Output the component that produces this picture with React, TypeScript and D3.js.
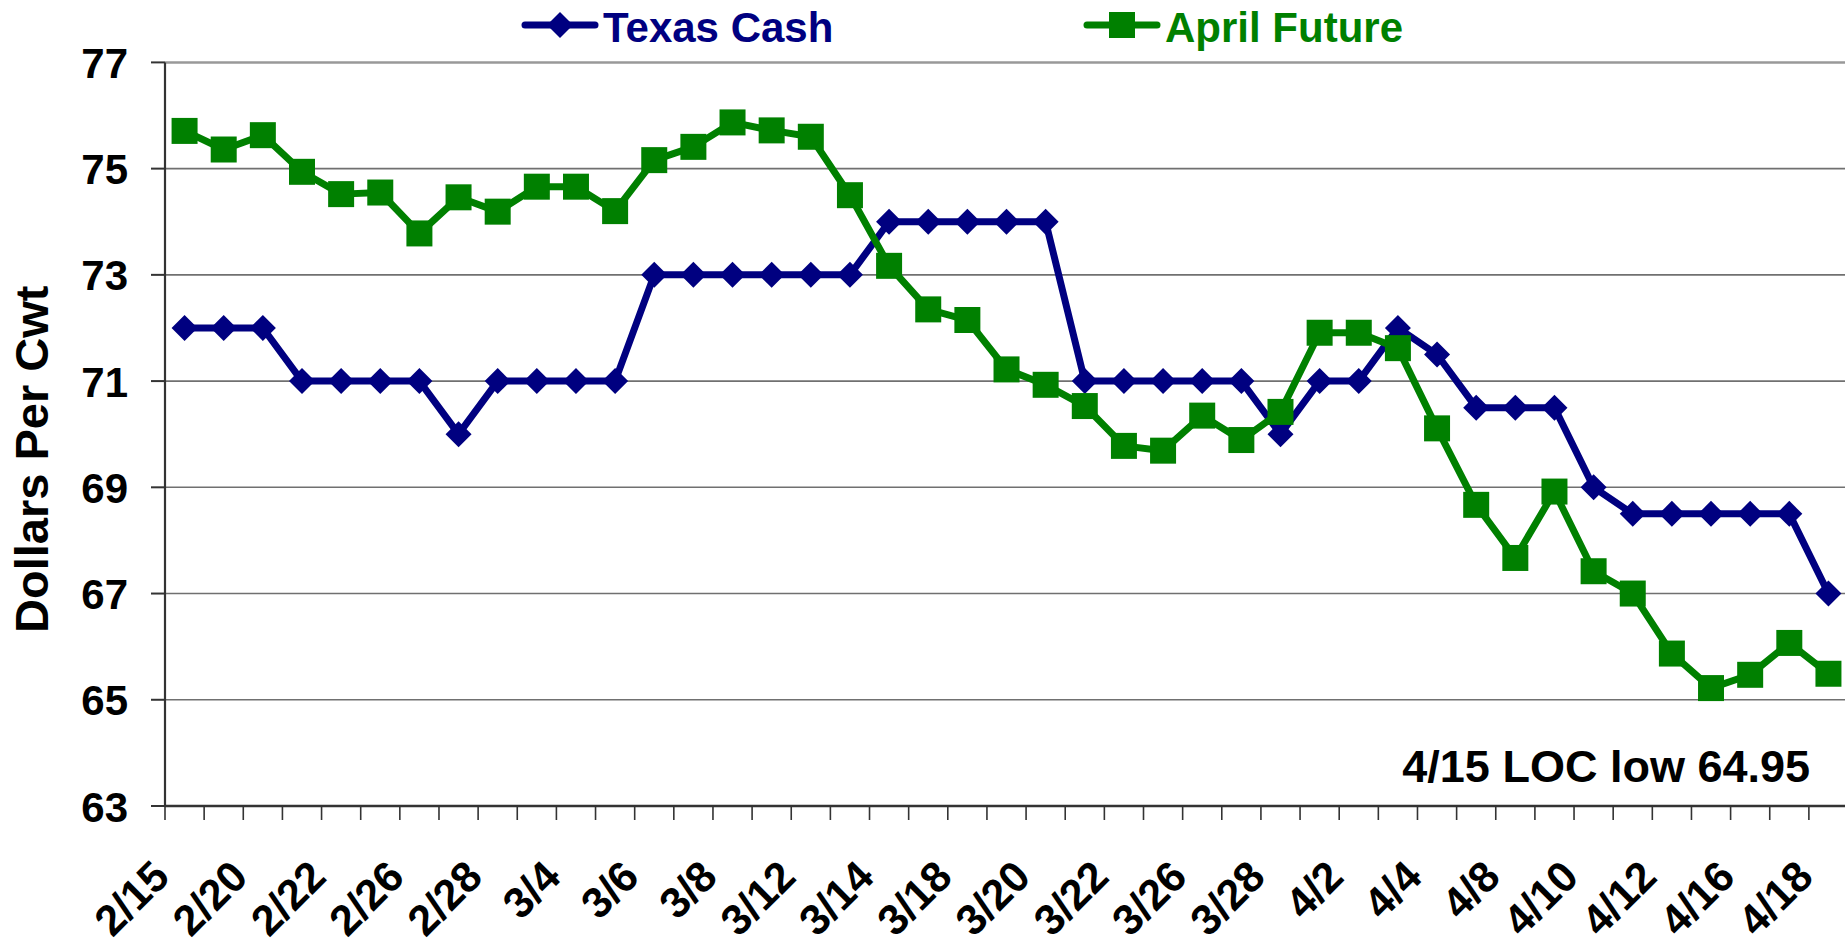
import React from 'react'
import * as d3 from 'd3';

const dates = [
  '2/15', '2/19', '2/20', '2/21', '2/22', '2/25', '2/26', '2/27', '2/28', '3/1',
  '3/4', '3/5', '3/6', '3/7', '3/8', '3/11', '3/12', '3/13', '3/14', '3/15',
  '3/18', '3/19', '3/20', '3/21', '3/22', '3/25', '3/26', '3/27', '3/28', '4/1',
  '4/2', '4/3', '4/4', '4/5', '4/8', '4/9', '4/10', '4/11', '4/12', '4/15',
  '4/16', '4/17', '4/18'
];

const texasCash = [
  72, 72, 72, 71, 71, 71, 71, 70, 71, 71,
  71, 71, 73, 73, 73, 73, 73, 73, 74, 74,
  74, 74, 74, 71, 71, 71, 71, 71, 70, 71,
  71, 72, 71.5, 70.5, 70.5, 70.5, 69, 68.5, 68.5, 68.5,
  68.5, 68.5, 67
];

const aprilFuture = [
  75.71, 75.36, 75.63, 74.94, 74.52, 74.55, 73.78, 74.46, 74.19, 74.66,
  74.66, 74.2, 75.16, 75.41, 75.87, 75.72, 75.6, 74.5, 73.17, 72.35,
  72.15, 71.22, 70.93, 70.53, 69.78, 69.69, 70.35, 69.89, 70.42, 71.91,
  71.91, 71.62, 70.11, 68.67, 67.67, 68.92, 67.42, 67.0, 65.87, 65.22,
  65.47, 66.07, 65.49
];

const yTicks = [63, 65, 67, 69, 71, 73, 75, 77];

const series = [
  { name: 'Texas Cash', values: texasCash, color: '#000080', marker: 'diamond' },
  { name: 'April Future', values: aprilFuture, color: '#008000', marker: 'square' },
];

const font = '"Liberation Sans", Arial, sans-serif';

export default function App() {
  const width = 1845;
  const height = 945;
  const left = 165;
  const band = 39.14;
  const top = 62.4;
  const bottom = 806;

  const x = d3.scaleBand()
    .domain(dates)
    .range([left, left + band * dates.length])
    .padding(0);

  const y = d3.scaleLinear()
    .domain([63, 77])
    .range([bottom, top]);

  const cx = (d: string) => (x(d) as number) + x.bandwidth() / 2;

  const line = d3.line<number>()
    .x((_, i) => cx(dates[i]))
    .y(v => y(v));

  // diamond = square symbol turned 45 degrees
  const diamond = d3.symbol().type(d3.symbolSquare).size(338)();
  const square = d3.symbol().type(d3.symbolSquare).size(676)();

  const marker = (kind: string, color: string, px: number, py: number, key?: any) =>
    kind === 'diamond'
      ? <path key={key} d={diamond} fill={color} transform={`translate(${px},${py}) rotate(45)`} />
      : <path key={key} d={square} fill={color} transform={`translate(${px},${py})`} />;

  const boundaries = d3.range(dates.length + 1).map(i => left + i * band);

  return (
    <div style={{ position: 'fixed', left: 0, top: 0 }}>
      <svg width={width} height={height} style={{ display: 'block', background: '#fff' }} fontFamily={font} fontWeight="bold">
        {/* gridlines */}
        {yTicks.filter(t => t > 63).map(t => (
          <line key={t} x1={left} x2={width} y1={y(t)} y2={y(t)}
            stroke={t === 77 ? '#999' : '#707070'} strokeWidth={t === 77 ? 2.5 : 1.6} />
        ))}

        {/* y axis */}
        <line x1={left} x2={left} y1={top} y2={bottom} stroke="#333" strokeWidth={2.2} />
        {yTicks.map(t => (
          <g key={t}>
            <line x1={left - 14} x2={left} y1={y(t)} y2={y(t)} stroke="#333" strokeWidth={2} />
            <text x={128} y={y(t) + 15.5} textAnchor="end" fontSize={42}>{t}</text>
          </g>
        ))}
        <text transform={`translate(48,633) rotate(-90)`} textAnchor="start" fontSize={47}>Dollars Per Cwt</text>

        {/* x axis */}
        <line x1={left} x2={width} y1={bottom} y2={bottom} stroke="#333" strokeWidth={2.5} />
        {boundaries.map((b, i) => (
          <line key={i} x1={b} x2={b} y1={bottom} y2={bottom + 14} stroke="#333" strokeWidth={1.6} />
        ))}
        {dates.map((d, i) => i % 2 === 0 ? (
          <text key={d} transform={`translate(${cx(d) - 13},879) rotate(-45)`} textAnchor="end" fontSize={43}>{d}</text>
        ) : null)}

        {/* series */}
        {series.map(s => (
          <g key={s.name}>
            <path d={line(s.values) as string} fill="none" stroke={s.color} strokeWidth={7} strokeLinejoin="round" />
            {s.values.map((v, i) => marker(s.marker, s.color, cx(dates[i]), y(v), i))}
          </g>
        ))}

        {/* legend */}
        <g>
          <line x1={525} x2={595} y1={25} y2={25} stroke="#000080" strokeWidth={7} strokeLinecap="round" />
          {marker('diamond', '#000080', 560, 25)}
          <text x={603} y={42} fontSize={42} fill="#000080">Texas Cash</text>
          <line x1={1087} x2={1157} y1={25} y2={25} stroke="#008000" strokeWidth={7} strokeLinecap="round" />
          {marker('square', '#008000', 1122, 25)}
          <text x={1165} y={42} fontSize={42} fill="#008000">April Future</text>
        </g>

        <text x={1810} y={782} textAnchor="end" fontSize={45}>4/15 LOC low 64.95</text>
      </svg>
    </div>
  )
}
